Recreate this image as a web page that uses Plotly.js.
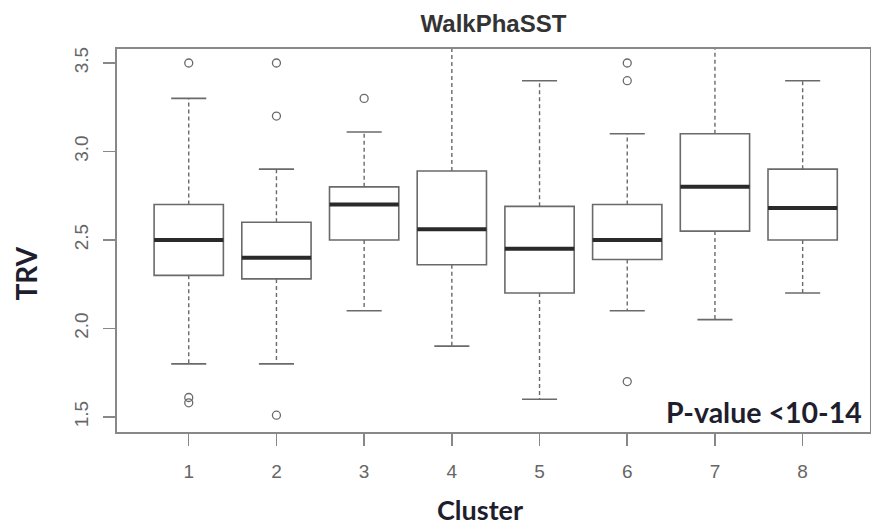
<!DOCTYPE html>
<html>
<head>
<meta charset="utf-8">
<script src="https://cdn.plot.ly/plotly-3.0.1.min.js"></script>
<style>html,body{margin:0;padding:0;background:#fff;}#chart{width:871px;height:530px;}</style>
</head>
<body>
<div id="chart"></div>
<script>
// ---- data ----
var clusters   = [1, 2, 3, 4, 5, 6, 7, 8];
var q1Values   = [2.30, 2.28, 2.50, 2.36, 2.20, 2.39, 2.55, 2.50];
var medians    = [2.50, 2.40, 2.70, 2.56, 2.45, 2.50, 2.80, 2.68];
var q3Values   = [2.70, 2.60, 2.80, 2.89, 2.69, 2.70, 3.10, 2.90];
var lowerWhisk = [1.80, 1.80, 2.10, 1.90, 1.60, 2.10, 2.05, 2.20];
var upperWhisk = [3.30, 2.90, 3.11, 3.70, 3.40, 3.10, 3.70, 3.40];
var outlierCluster = [1, 1, 1, 2, 2, 2, 3, 6, 6, 6];
var outlierTRV     = [3.50, 1.61, 1.58, 3.50, 3.20, 1.51, 3.30, 3.50, 3.40, 1.70];
var yTickVals  = [1.5, 2.0, 2.5, 3.0, 3.5];
var yTickText  = ['1.5', '2.0', '2.5', '3.0', '3.5'];
var chartTitle = 'WalkPhaSST';
var xLabel = 'Cluster';
var yLabel = 'TRV';
var pLabel = 'P-value <10-14';

// ---- styling ----
var boxW = 0.79, capHalf = 0.2, medHalf = 0.395;
var lineGrey = '#6a6a6a';

// whiskers (dashed) and caps built from the data arrays
var wx = [], wy = [], cx = [], cy = [], mx = [], my = [];
clusters.forEach(function (c, i) {
  wx.push(c, c, null, c, c, null);
  wy.push(q3Values[i], upperWhisk[i], null, q1Values[i], lowerWhisk[i], null);
  cx.push(c - capHalf, c + capHalf, null, c - capHalf, c + capHalf, null);
  cy.push(upperWhisk[i], upperWhisk[i], null, lowerWhisk[i], lowerWhisk[i], null);
  mx.push(c - medHalf, c + medHalf, null);
  my.push(medians[i], medians[i], null);
});

var traces = [
  {
    type: 'box', x: clusters,
    q1: q1Values, median: medians, q3: q3Values,
    lowerfence: q1Values, upperfence: q3Values,
    width: boxW, boxpoints: false,
    fillcolor: 'rgba(255,255,255,0)',
    line: {color: lineGrey, width: 1.6},
    whiskerwidth: 0, showlegend: false, hoverinfo: 'skip'
  },
  {type: 'scatter', mode: 'lines', x: wx, y: wy, connectgaps: false,
   line: {color: lineGrey, width: 1.4, dash: '4px,3px'}, showlegend: false, hoverinfo: 'skip'},
  {type: 'scatter', mode: 'lines', x: cx, y: cy, connectgaps: false,
   line: {color: lineGrey, width: 1.6}, showlegend: false, hoverinfo: 'skip'},
  {type: 'scatter', mode: 'lines', x: mx, y: my, connectgaps: false,
   line: {color: '#2a2a2a', width: 4}, showlegend: false, hoverinfo: 'skip'},
  {type: 'scatter', mode: 'markers', x: outlierCluster, y: outlierTRV,
   marker: {symbol: 'circle-open', size: 8, color: lineGrey, line: {width: 1.3}},
   showlegend: false}
];

var ml = 117.3, mr = 1, mt = 49.3, mb = 98;
var pw = 871 - ml - mr, ph = 530 - mt - mb;
function px2paperX(p) { return (p - ml) / pw; }
function px2paperY(p) { return (530 - mb - p) / ph; }

var layout = {
  width: 871, height: 530,
  margin: {l: ml, r: mr, t: mt, b: mb, pad: 0},
  paper_bgcolor: '#fff', plot_bgcolor: '#fff',
  font: {family: 'Liberation Sans, Arial, sans-serif', color: '#555'},
  title: {text: chartTitle, font: {family: 'Liberation Sans, Arial, sans-serif', size: 24, color: '#333', weight: 'bold'},
          xref: 'paper', x: 0.5, xanchor: 'center', yref: 'container', y: 1 - 24 / 530, yanchor: 'middle'},
  xaxis: {
    range: [0.182, 8.768], tickvals: clusters, ticktext: clusters.map(String),
    ticks: 'outside', ticklen: 12, tickwidth: 1.5, tickcolor: '#888',
    showline: true, linecolor: '#888', linewidth: 1.6, mirror: true,
    showgrid: false, zeroline: false, fixedrange: true,
    tickfont: {size: 19, color: '#666'}, ticklabelstandoff: 10
  },
  yaxis: {
    range: [1.415, 3.579], tickvals: yTickVals, ticktext: yTickText, tickangle: -90,
    ticks: 'outside', ticklen: 12, tickwidth: 1.5, tickcolor: '#888',
    showline: true, linecolor: '#888', linewidth: 1.6, mirror: true,
    showgrid: false, zeroline: false, fixedrange: true,
    tickfont: {size: 19, color: '#666'}, ticklabelstandoff: 8
  },
  annotations: [
    {text: yLabel, xref: 'paper', yref: 'paper', x: px2paperX(26), y: px2paperY(274),
     xanchor: 'center', yanchor: 'middle', textangle: -90, showarrow: false,
     font: {family: 'Lato, Open Sans, sans-serif', size: 28, color: '#1e1e2e', weight: 'bold'}},
    {text: xLabel, xref: 'paper', yref: 'paper', x: px2paperX(480), y: px2paperY(509),
     xanchor: 'center', yanchor: 'middle', showarrow: false,
     font: {family: 'Lato, Open Sans, sans-serif', size: 27, color: '#1e1e2e', weight: 'bold'}},
    {text: pLabel, xref: 'paper', yref: 'paper', x: px2paperX(864), y: px2paperY(412),
     xanchor: 'right', yanchor: 'middle', showarrow: false,
     font: {family: 'Lato, Open Sans, sans-serif', size: 28.5, color: '#1e1e2e', weight: 'bold'}}
  ]
};

Plotly.newPlot('chart', traces, layout, {displayModeBar: false, staticPlot: true});
</script>
</body>
</html>
